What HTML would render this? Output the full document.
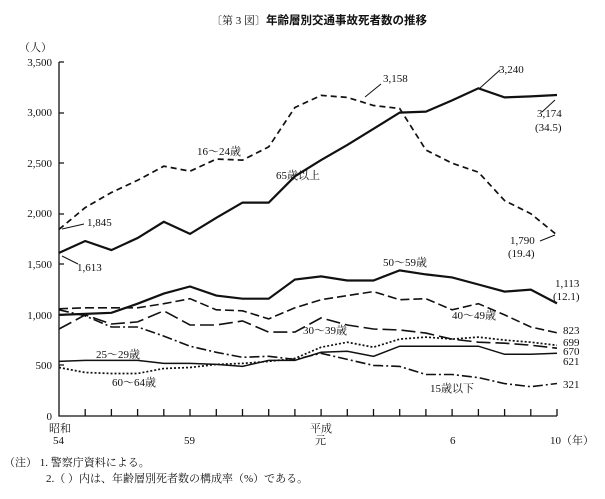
<!DOCTYPE html><html><head><meta charset="utf-8"><style>body{margin:0;background:#fff}svg{display:block}text{font-family:"Liberation Serif","Noto Serif CJK SC",serif;fill:#111}</style></head><body>
<svg width="605" height="499" viewBox="0 0 605 499" xmlns="http://www.w3.org/2000/svg">
<text x="211" y="24" font-size="11">〔第 3 図〕</text><text x="266" y="24" font-size="11.5" font-weight="bold" style="font-family:'Noto Sans CJK JP',sans-serif">年齢層別交通事故死者数の推移</text>
<g font-size="11" text-anchor="end"><text x="52" y="51">（人）</text><text x="52" y="66">3,500</text><text x="52" y="116">3,000</text><text x="52" y="167">2,500</text><text x="52" y="217">2,000</text><text x="52" y="268">1,500</text><text x="52" y="319">1,000</text><text x="52" y="369">500</text><text x="52" y="420">0</text></g>
<g stroke="#111" stroke-width="1.3" fill="none">
<path d="M59 62V416H557M59 62h5M59 113h5M59 163h5M59 214h5M59 264h5M59 315h5M59 365h5"/>
<path d="M85.2 416v-7M111.4 416v-7M137.6 416v-7M163.8 416v-7M190 416v-7M216.3 416v-7M242.5 416v-7M268.7 416v-7M294.9 416v-7M321.1 416v-7M347.3 416v-7M373.5 416v-7M399.7 416v-7M425.9 416v-7M452.1 416v-7M478.4 416v-7M504.6 416v-7M530.8 416v-7M557 416v-7"/>
<polyline stroke-width="2.2" points="59,252.9 85.2,241 111.4,250.1 137.6,238 163.8,221.8 190,233.9 216.3,217.8 242.5,202.6 268.7,202.6 294.9,176.3 321.1,160.1 347.3,144.9 373.5,128.8 399.7,112.6 425.9,111.6 452.1,100.4 478.4,88.3 504.6,97.4 530.8,96.4 557,95"/>
<polyline stroke-width="1.7" stroke-dasharray="6,4" points="59,229.4 85.2,207.6 111.4,192.5 137.6,180.3 163.8,166.2 190,171.2 216.3,159.1 242.5,160.1 268.7,146.9 294.9,107.5 321.1,95.4 347.3,97.4 373.5,105.5 399.7,108.5 425.9,150 452.1,163.2 478.4,172.2 504.6,200.6 530.8,213.7 557,235"/>
<polyline stroke-width="2.2" points="59,314.9 85.2,313.9 111.4,312.8 137.6,303.7 163.8,293.6 190,286.5 216.3,295.6 242.5,298.7 268.7,298.7 294.9,279.5 321.1,276.4 347.3,280.5 373.5,280.5 399.7,270.4 425.9,274.4 452.1,277.4 478.4,284.5 504.6,291.6 530.8,289.6 557,303.4"/>
<polyline stroke-width="1.6" stroke-dasharray="9,4" points="59,308.8 85.2,307.8 111.4,307.8 137.6,307.8 163.8,303.7 190,298.7 216.3,309.8 242.5,310.8 268.7,318.9 294.9,307.8 321.1,299.7 347.3,295.6 373.5,291.6 399.7,299.7 425.9,298.7 452.1,309.8 478.4,303.7 504.6,314.9 530.8,327 557,332.8"/>
<polyline stroke-width="1.6" stroke-dasharray="14,5" points="59,329 85.2,314.9 111.4,324 137.6,321.9 163.8,310.8 190,325 216.3,325 242.5,320.9 268.7,332.1 294.9,332.1 321.1,317.9 347.3,325 373.5,329 399.7,330 425.9,333.1 452.1,339.1 478.4,342.2 504.6,343.2 530.8,345.2 557,348.2"/>
<polyline stroke-width="1.6" stroke-dasharray="10,3,2,3" points="59,309.8 85.2,315.9 111.4,327 137.6,327 163.8,336.1 190,346.2 216.3,352.3 242.5,357.3 268.7,356.3 294.9,359.4 321.1,353.3 347.3,359.4 373.5,365.4 399.7,366.4 425.9,374.5 452.1,374.5 478.4,377.6 504.6,383.6 530.8,386.7 557,383.5"/>
<polyline stroke-width="1.5" points="59,361.4 85.2,360.4 111.4,360.4 137.6,360.4 163.8,363.4 190,363.4 216.3,364.4 242.5,366.4 268.7,360.4 294.9,360.4 321.1,352.3 347.3,351.3 373.5,356.3 399.7,346.2 425.9,346.2 452.1,346.2 478.4,346.2 504.6,354.3 530.8,354.3 557,353.2"/>
<polyline stroke-width="1.7" stroke-dasharray="2,2" points="59,367.5 85.2,372.5 111.4,373.5 137.6,373.5 163.8,368.5 190,367.5 216.3,364.4 242.5,363.4 268.7,361.4 294.9,358.4 321.1,347.2 347.3,342.2 373.5,347.2 399.7,339.1 425.9,337.1 452.1,339.1 478.4,337.1 504.6,340.1 530.8,342.2 557,345.3"/>
<path stroke-width="1" d="M84 224L62 229M78 264L62 256M381 84L365 97M500 70L480 88M542 112L555 100M540 241L555 235"/>
</g>
<g font-size="11"><text x="87" y="226">1,845</text><text x="77" y="271">1,613</text><text x="383" y="82">3,158</text><text x="499" y="73">3,240</text><text x="537" y="117">3,174</text><text x="535" y="131">(34.5)</text><text x="510" y="244">1,790</text><text x="508" y="257">(19.4)</text><text x="197" y="155">16～24歳</text><text x="276" y="179">65歳以上</text><text x="383" y="266">50～59歳</text><text x="555" y="287">1,113</text><text x="553" y="300">(12.1)</text><text x="452" y="319">40～49歳</text><text x="303" y="334">30～39歳</text><text x="96" y="358">25～29歳</text><text x="112" y="386">60～64歳</text><text x="430" y="392">15歳以下</text>
<text x="563" y="334">823</text><text x="563" y="346">699</text><text x="563" y="355">670</text><text x="563" y="365">621</text><text x="563" y="388">321</text>
<text x="49" y="432">昭和</text><text x="53" y="444">54</text><text x="184" y="444">59</text><text x="310" y="432">平成</text><text x="315" y="444">元</text><text x="450" y="444">6</text><text x="550" y="444">10（年）</text>
<text x="4" y="466">（注） 1.  警察庁資料による。</text><text x="46" y="482">2.（  ）内は、年齢層別死者数の構成率（%）である。</text></g>
</svg></body></html>
